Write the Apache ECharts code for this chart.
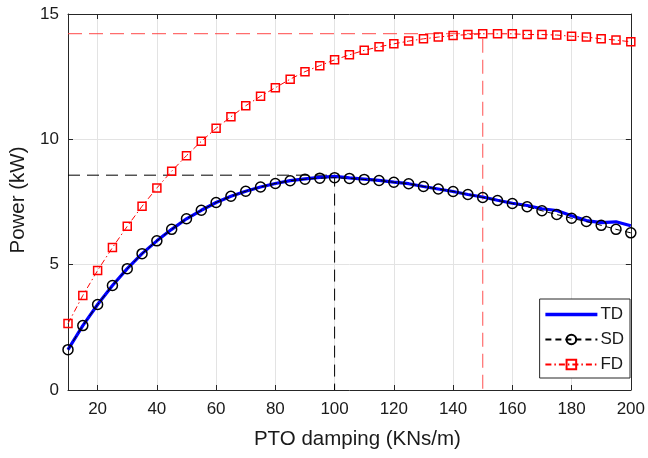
<!DOCTYPE html>
<html>
<head>
<meta charset="utf-8">
<script src="https://cdn.jsdelivr.net/npm/echarts@6/dist/echarts.min.js"></script>
<style>
html,body{margin:0;padding:0;background:#fff;}
#chart{width:648px;height:458px;}
</style>
</head>
<body>
<div id="chart"></div>
<script>
// ---- data ----
const damping = [10,15,20,25,30,35,40,45,50,55,60,65,70,75,80,85,90,95,100,105,110,115,120,125,130,135,140,145,150,155,160,165,170,175,180,185,190,195,200];
const tdPower = [1.61,2.57,3.41,4.17,4.84,5.44,5.95,6.41,6.83,7.17,7.48,7.73,7.93,8.10,8.24,8.35,8.42,8.48,8.52,8.46,8.41,8.36,8.29,8.23,8.12,8.02,7.92,7.80,7.70,7.57,7.45,7.36,7.23,7.16,6.95,6.76,6.68,6.71,6.55];
const sdPower = [1.61,2.57,3.41,4.17,4.84,5.44,5.95,6.41,6.83,7.17,7.48,7.73,7.93,8.10,8.24,8.35,8.41,8.45,8.47,8.44,8.40,8.36,8.29,8.23,8.12,8.02,7.92,7.80,7.68,7.56,7.44,7.31,7.15,7.00,6.85,6.72,6.57,6.41,6.27];
const fdPower = [2.65,3.77,4.77,5.68,6.53,7.33,8.06,8.73,9.35,9.92,10.44,10.90,11.34,11.72,12.06,12.40,12.70,12.94,13.17,13.37,13.55,13.69,13.81,13.92,14.01,14.08,14.14,14.18,14.21,14.21,14.21,14.18,14.18,14.16,14.11,14.08,14.01,13.96,13.89];
const xTicks = [20,40,60,80,100,120,140,160,180,200];
const yTicks = [0,5,10,15];
const sdPeak = [100, 8.57];
const fdPeak = [150, 14.22];
const xStart = 10;
const seriesNames = ['TD','SD','FD'];

// ---- chart ----
const FONT = '"Liberation Sans", Arial, Helvetica, sans-serif';
const chart = echarts.init(document.getElementById('chart'), null, {renderer:'canvas'});
const pairs = (ys) => damping.map((x,i)=>[x, ys[i]]);
const axisCommon = {
  type:'value', min:10, max:200,
  axisLine:{show:true, onZero:false, lineStyle:{color:'#262626', width:1}},
  axisTick:{show:true, inside:true, length:5, customValues:xTicks, lineStyle:{color:'#262626'}},
};
const option = {
  animation:false,
  backgroundColor:'#fff',
  grid:{left:67, right:15, top:14, bottom:68, containLabel:false},
  xAxis:[
    Object.assign({}, axisCommon, {
      position:'bottom',
      name:'PTO damping (KNs/m)', nameLocation:'middle', nameGap:39,
      nameTextStyle:{fontFamily:FONT, fontSize:20.5, color:'#1a1a1a', padding:[0,0,0,16]},
      axisLabel:{customValues:xTicks, fontFamily:FONT, fontSize:17, color:'#1a1a1a', margin:11},
      splitLine:{show:true, lineStyle:{color:'#e3e3e3', width:1}}
    }),
    Object.assign({}, axisCommon, {
      position:'top',
      axisLabel:{show:false},
      splitLine:{show:false}
    })
  ],
  yAxis:[
    {
      type:'value', min:0, max:15, interval:5, position:'left',
      name:'Power (kW)', nameLocation:'middle', nameGap:39, nameRotate:90,
      nameTextStyle:{fontFamily:FONT, fontSize:20.5, color:'#1a1a1a', padding:[0,0,0,4]},
      axisLine:{show:true, onZero:false, lineStyle:{color:'#262626'}},
      axisTick:{show:true, inside:true, length:5, lineStyle:{color:'#262626'}},
      axisLabel:{fontFamily:FONT, fontSize:17, color:'#1a1a1a', margin:9},
      splitLine:{show:true, lineStyle:{color:'#e3e3e3', width:1}}
    },
    {
      type:'value', min:0, max:15, interval:5, position:'right',
      axisLine:{show:true, onZero:false, lineStyle:{color:'#262626'}},
      axisTick:{show:true, inside:true, length:5, lineStyle:{color:'#262626'}},
      axisLabel:{show:false},
      splitLine:{show:false}
    }
  ],
  legend:{
    data:[
      {name:'TD', lineStyle:{width:3.5}},
      {name:'SD'},
      {name:'FD'}
    ],
    orient:'vertical',
    right:18, bottom:80,
    itemWidth:52, itemHeight:12, itemGap:6,
    padding:[6,6,4,4],
    borderColor:'#262626', borderWidth:1, borderRadius:0,
    backgroundColor:'#fff',
    textStyle:{fontFamily:FONT, fontSize:17, color:'#1a1a1a', lineHeight:19, padding:[0,0,0,-2]}
  },
  series:[
    {
      name:'black-ref', type:'line', silent:true, symbol:'none', z:3,
      data:[[xStart, sdPeak[1]],[sdPeak[0], sdPeak[1]],[sdPeak[0], 0]],
      lineStyle:{color:'#000', width:1, type:[12,7]}
    },
    {
      name:'red-ref', type:'line', silent:true, symbol:'none', z:3,
      data:[[xStart, fdPeak[1]],[fdPeak[0], fdPeak[1]],[fdPeak[0], 0]],
      lineStyle:{color:'rgba(255,60,60,0.75)', width:1.2, type:[14,7]}
    },
    {
      name:'TD', type:'line', symbol:'none', z:4,
      data:pairs(tdPower),
      lineStyle:{color:'#0000ff', width:3.2},
      itemStyle:{color:'rgba(0,0,255,0)'}
    },
    {
      name:'SD', type:'line', symbol:'circle', symbolSize:10, z:5,
      data:pairs(sdPower),
      lineStyle:{color:'#000', width:1, type:[6,4]},
      itemStyle:{color:'rgba(255,255,255,0)', borderColor:'#000', borderWidth:1.5}
    },
    {
      name:'FD', type:'line', symbol:'rect', symbolSize:8, z:6,
      data:pairs(fdPower),
      lineStyle:{color:'#ff0000', width:1, type:[6,3,1.5,3]},
      itemStyle:{color:'rgba(255,255,255,0)', borderColor:'#ff0000', borderWidth:1.5}
    }
  ]
};
chart.setOption(option);
</script>
</body>
</html>
